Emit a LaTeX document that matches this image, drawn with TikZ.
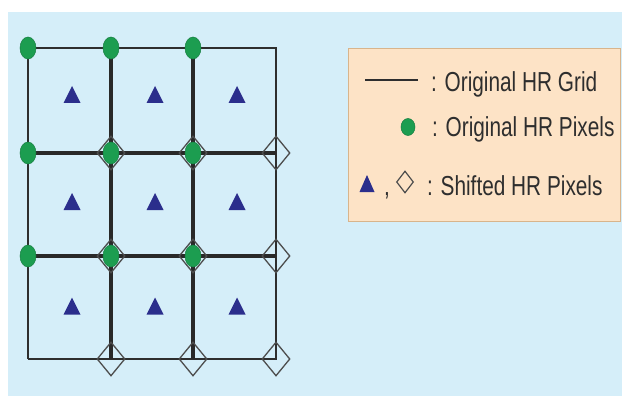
\documentclass[tikz,border=0pt]{standalone}
\usepackage{fontspec}
\setmainfont{Liberation Sans}
\usetikzlibrary{shapes.geometric}
\definecolor{bgblue}{HTML}{D5EEF9}
\definecolor{legfill}{HTML}{FDE3C6}
\definecolor{legdraw}{HTML}{D8B48C}
\definecolor{dotgreen}{HTML}{1C9D50}
\definecolor{trinavy}{HTML}{2B2E8C}
\definecolor{ink}{HTML}{2E2E2E}
\tikzset{
  outerline/.style={draw=ink, line width=1.7pt},
  innerline/.style={draw=ink!90!black, line width=3.2pt},
  gdot/.style={ellipse, fill=dotgreen, draw=dotgreen!80!black, line width=0.5pt, minimum width=16pt, minimum height=22pt, inner sep=0pt},
  shdiam/.style={diamond, draw=ink!85, line width=1.3pt, minimum width=28pt, minimum height=34pt, inner sep=0pt},
  legdiam/.style={diamond, draw=ink!85, line width=1.2pt, minimum width=17pt, minimum height=22pt, inner sep=0pt},
  legtext/.style={anchor=base west, inner sep=0pt, text=ink, font=\fontsize{20.8}{24}\selectfont},
  tri/.pic={\fill[trinavy] (-8.5,8.5) -- (8.5,8.5) -- (0,-8.5) -- cycle;},
  ltri/.pic={\fill[trinavy] (-7.5,8.5) -- (7.5,8.5) -- (0,-8.5) -- cycle;}
}
\newcommand{\tallbox}[1]{\scalebox{1}[1.32]{#1}}
\begin{document}
\begin{tikzpicture}[x=1pt,y=-1pt]
\useasboundingbox (0,0) rectangle (622,396);
\fill[bgblue] (8,12) rectangle (622,396);
% grid coordinates
\foreach \xn/\xv in {0/28,1/111,2/193,3/276}{
  \foreach \yn/\yv in {0/48,1/153,2/256,3/359}{
    \coordinate (g\xn\yn) at (\xv,\yv);
  }
}
% outer frame
\draw[outerline] (g00) -- (g30) -- (g33) -- (g03);
\draw[draw=ink, line width=2.2pt] (g03) -- (g00);
% inner lines
\draw[innerline] (g10) -- (g13);
\draw[innerline] (g20) -- (g23);
\draw[innerline] (g01) -- (g31);
\draw[innerline] (g02) -- (g32);
% triangles
\foreach \tx in {72,155,237}{
  \foreach \ty in {94.5,201.5,306}{
    \pic at (\tx,\ty) {tri};
  }
}
% shifted diamonds
\foreach \xn in {1,2,3}{
  \foreach \yn in {1,2,3}{
    \node[shdiam] (d\xn\yn) at (g\xn\yn) {};
  }
}
% original green pixels
\foreach \xn in {0,1,2}{
  \foreach \yn in {0,1,2}{
    \node[gdot] (o\xn\yn) at (g\xn\yn) {};
  }
}
% legend
\node[draw=legdraw, fill=legfill, line width=1pt, minimum width=272pt, minimum height=173pt, anchor=north west, inner sep=0pt] (legend) at (348,48) {};
\coordinate (la) at (365,80);
\coordinate (lb) at (418,80);
\draw[draw=ink, line width=2pt] (la) -- (lb);
\node[legtext] (t1) at (431,92) {\tallbox{: Original HR Grid}};
\node[gdot, minimum width=14pt, minimum height=17pt] (ldot) at (408,127) {};
\node[legtext] (t2) at (432,137) {\tallbox{: Original HR Pixels}};
\pic at (367,183.5) {ltri};
\node[legtext] (comma) at (384,195) {\tallbox{,}};
\node[legdiam] (ldiam) at (405,182) {};
\node[legtext] (t3) at (427,195) {\tallbox{: Shifted HR Pixels}};
\end{tikzpicture}
\end{document}
